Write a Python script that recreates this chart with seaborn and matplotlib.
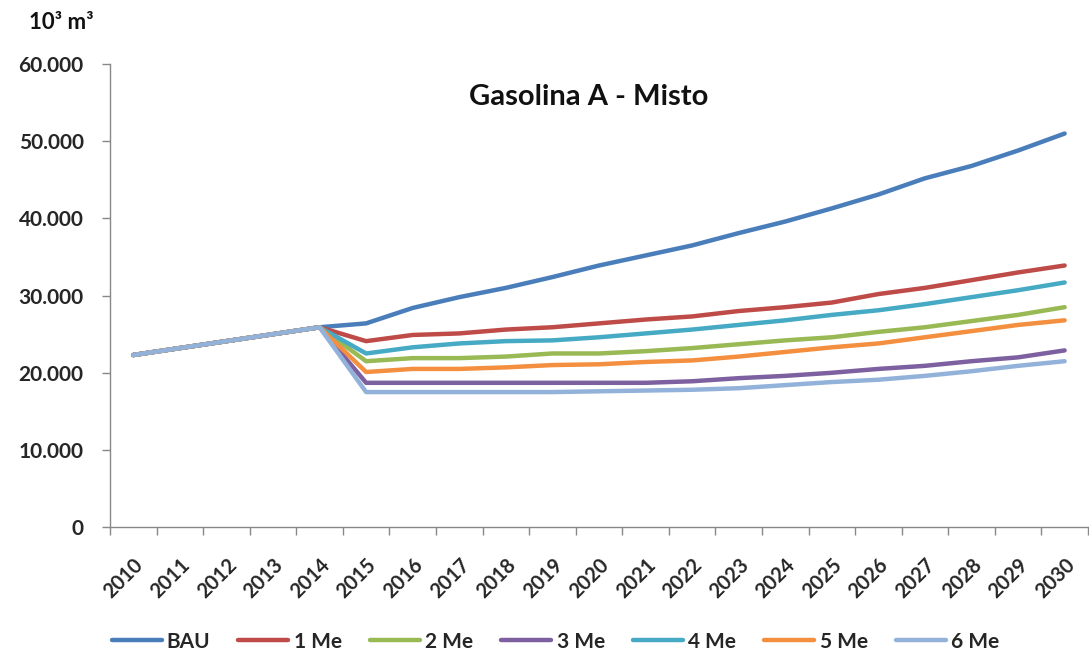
import matplotlib
matplotlib.use("Agg")
import matplotlib.pyplot as plt
import matplotlib.ticker as mticker
import seaborn as sns
import pandas as pd
import numpy as np

years = [str(y) for y in range(2010, 2031)]
series_names = ["BAU", "1 Me", "2 Me", "3 Me", "4 Me", "5 Me", "6 Me"]
common = [22300, 23200, 24100, 25000, 25900]
bau = common + [26400, 28400, 29800, 31000, 32400, 33900, 35200, 36500, 38100, 39600, 41300, 43100, 45200, 46800, 48800, 51000]
me1 = common + [24100, 24900, 25100, 25600, 25900, 26400, 26900, 27300, 28000, 28500, 29100, 30200, 31000, 32000, 33000, 33900]
me2 = common + [21500, 21900, 21900, 22100, 22500, 22500, 22800, 23200, 23700, 24200, 24600, 25300, 25900, 26700, 27500, 28500]
me3 = common + [18700, 18700, 18700, 18700, 18700, 18700, 18700, 18900, 19300, 19600, 20000, 20500, 20900, 21500, 22000, 22900]
me4 = common + [22500, 23300, 23800, 24100, 24200, 24600, 25100, 25600, 26200, 26800, 27500, 28100, 28900, 29800, 30700, 31700]
me5 = common + [20100, 20500, 20500, 20700, 21000, 21100, 21400, 21600, 22100, 22700, 23300, 23800, 24600, 25400, 26200, 26800]
me6 = common + [17500, 17500, 17500, 17500, 17500, 17600, 17700, 17800, 18000, 18400, 18800, 19100, 19600, 20200, 20900, 21500]
values = [bau, me1, me2, me3, me4, me5, me6]
colors = ["#4A7EBB", "#BE4B48", "#98B954", "#7D60A0", "#46AAC5", "#F38F3F", "#93B2DA"]

rows = []
for name, vals in zip(series_names, values):
    for i, v in enumerate(vals):
        rows.append({"idx": i, "year": years[i], "serie": name, "valor": v})
df = pd.DataFrame(rows)

sns.set_theme(style="white")
plt.rcParams["font.family"] = ["Lato", "DejaVu Sans"]

fig = plt.figure(figsize=(10.89, 6.54), dpi=100)
ax = fig.add_axes([0.101, 0.194, 0.898, 0.708])

sns.lineplot(data=df, x="idx", y="valor", hue="serie", hue_order=series_names,
             palette=colors, linewidth=3.2, ax=ax, legend=False, sort=False)

ax.set_xlim(-0.5, len(years) - 0.5)
ax.set_ylim(0, 60000)
ax.yaxis.set_major_locator(mticker.MultipleLocator(10000))
ax.yaxis.set_major_formatter(mticker.FuncFormatter(
    lambda v, p: "0" if v == 0 else f"{int(v):,}".replace(",", ".")))

ax.set_xticks(range(len(years)))
ax.set_xticklabels(years, rotation=45, ha="right", rotation_mode="anchor",
                   fontsize=14.5, fontweight="bold")
ax.set_xticks(np.arange(-0.5, len(years), 1.0), minor=True)
ax.tick_params(axis="x", which="major", length=0, pad=20)
ax.tick_params(axis="x", which="minor", length=6, width=1, color="#888888", direction="out")
ax.tick_params(axis="y", length=6, width=1, color="#888888", direction="out",
               labelsize=15, pad=13)
for lbl in ax.get_yticklabels():
    lbl.set_fontweight("bold")
ax.xaxis.set_tick_params(bottom=True, which="both")
ax.yaxis.set_tick_params(left=True)

for s in ["top", "right"]:
    ax.spines[s].set_visible(False)
for s in ["left", "bottom"]:
    ax.spines[s].set_color("#888888")
    ax.spines[s].set_linewidth(1)

ax.set_xlabel("")
ax.set_ylabel("")
ax.grid(False)

ax.text(0.49, 0.93, "Gasolina A - Misto", transform=ax.transAxes, ha="center",
        va="center", fontsize=21, fontweight="bold", color="#111111")
fig.text(0.027, 0.966, "10³ m³", ha="left", va="center", fontsize=16,
         fontweight="bold", color="#111111")

handles = [plt.Line2D([0], [0], color=c, lw=3.2) for c in colors]
fig.legend(handles, series_names, loc="lower center", bbox_to_anchor=(0.51, -0.025),
           ncol=7, frameon=False, handlelength=2.4, handletextpad=0.25,
           columnspacing=1.35, prop={"weight": "bold", "size": 15})

fig.savefig("out.png", dpi=100)
